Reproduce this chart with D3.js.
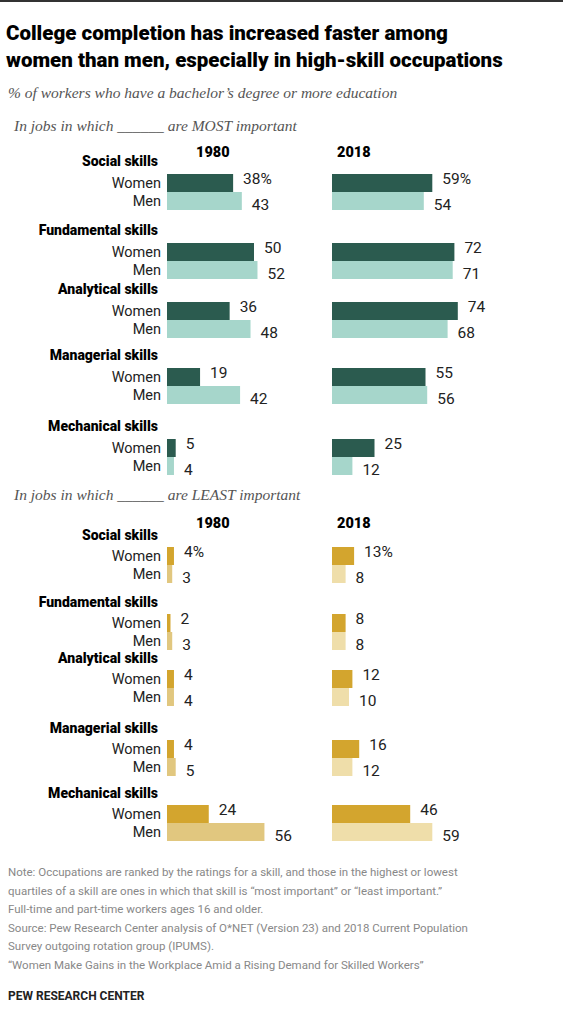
<!DOCTYPE html>
<html><head><meta charset="utf-8">
<script src="https://cdn.jsdelivr.net/npm/d3@7"></script>
<style>body{margin:0;background:#fff}</style>
</head><body><div id="chart"></div>
<script>
var skills = ["Social skills","Fundamental skills","Analytical skills","Managerial skills","Mechanical skills"];
var mostWomen1980 = [38,50,36,19,5], mostMen1980 = [43,52,48,42,4];
var mostWomen2018 = [59,72,74,55,25], mostMen2018 = [54,71,68,56,12];
var leastWomen1980 = [4,2,4,4,24], leastMen1980 = [3,3,4,5,56];
var leastWomen2018 = [13,8,12,16,46], leastMen2018 = [8,8,10,12,59];
var notes = [
  "Note: Occupations are ranked by the ratings for a skill, and those in the highest or lowest",
  "quartiles of a skill are ones in which that skill is \u201cmost important\u201d or \u201cleast important.\u201d",
  "Full-time and part-time workers ages 16 and older.",
  "Source: Pew Research Center analysis of O*NET (Version 23) and 2018 Current Population",
  "Survey outgoing rotation group (IPUMS).",
  "\u201cWomen Make Gains in the Workplace Amid a Rising Demand for Skilled Workers\u201d"
];

var W = 563, H = 1024, font = "Roboto, Arial, sans-serif";
var svg = d3.select("#chart").append("svg").attr("width", W).attr("height", H)
  .style("font-family", font);

svg.append("rect").attr("x",0).attr("y",0).attr("width",W).attr("height",2).attr("fill","#333");
svg.append("text").attr("x",6).attr("y",40).attr("font-size",20.5).attr("font-weight",900).attr("fill","#000")
  .text("College completion has increased faster among");
svg.append("text").attr("x",6).attr("y",67).attr("font-size",20.5).attr("font-weight",900).attr("fill","#000")
  .text("women than men, especially in high-skill occupations");
svg.append("text").attr("x",8).attr("y",98).attr("font-size",15.5).attr("font-style","italic")
  .attr("font-family","'Liberation Serif', serif").attr("fill","#555")
  .text("% of workers who have a bachelor\u2019s degree or more education");

var x1980 = d3.scaleLinear().domain([0,100]).range([167,341]);
var x2018 = d3.scaleLinear().domain([0,100]).range([332,502]);

function section(opt){
  svg.append("text").attr("x",14).attr("y",opt.titleY).attr("font-size",15.5).attr("font-style","italic")
    .attr("font-family","'Liberation Serif', serif").attr("fill","#555").text(opt.title);
  svg.append("text").attr("x",196).attr("y",opt.yearY).attr("font-size",14.5).attr("font-weight",900).text("1980");
  svg.append("text").attr("x",337).attr("y",opt.yearY).attr("font-size",14.5).attr("font-weight",900).text("2018");
  skills.forEach(function(s,i){
    var gy = opt.groupY[i], bh = opt.barH;
    svg.append("text").attr("x",158).attr("y",gy).attr("text-anchor","end")
      .attr("font-size",14).attr("font-weight",900).text(s);
    var by = gy + opt.gap;
    var rows = [
      {lab:"Women", v1:opt.w80[i], v2:opt.w18[i], c1:opt.cw, c2:opt.cw, y:by},
      {lab:"Men", v1:opt.m80[i], v2:opt.m18[i], c1:opt.cm80, c2:opt.cm18, y:by+bh}
    ];
    rows.forEach(function(r,k){
      svg.append("text").attr("x",161).attr("y",r.y+bh/2+5).attr("text-anchor","end")
        .attr("font-size",14.5).attr("fill","#222").text(r.lab);
      [[x1980,r.v1,r.c1],[x2018,r.v2,r.c2]].forEach(function(d){
        var sc = d[0];
        svg.append("rect").attr("x",sc(0)).attr("y",r.y).attr("width",sc(d[1])-sc(0))
          .attr("height",bh).attr("fill",d[2]);
        svg.append("text").attr("x",sc(d[1])+10).attr("y",r.y+bh/2+(k==0?1:9))
          .attr("font-size",15.5).attr("fill","#222")
          .text(d[1] + (i==0 && k==0 ? "%" : ""));
      });
    });
  });
}

section({title:"In jobs in which ______ are MOST important", titleY:131, yearY:157,
  groupY:[166,235,294,360,431], gap:8, barH:18,
  w80:mostWomen1980, m80:mostMen1980, w18:mostWomen2018, m18:mostMen2018,
  cw:"#2b5b4f", cm80:"#a6d6cb", cm18:"#a6d6cb"});
section({title:"In jobs in which ______ are LEAST important", titleY:500, yearY:528,
  groupY:[540,607,663,733,798], gap:7, barH:18,
  w80:leastWomen1980, m80:leastMen1980, w18:leastWomen2018, m18:leastMen2018,
  cw:"#d3a52e", cm80:"#e1c77f", cm18:"#efdeaa"});

notes.forEach(function(n,i){
  svg.append("text").attr("x",8).attr("y",876+i*18.5).attr("font-size",11.5).attr("fill","#888").text(n);
});
svg.append("text").attr("x",8).attr("y",1000).attr("font-size",12).attr("font-weight",700)
  .attr("fill","#222").text("PEW RESEARCH CENTER");
</script></body></html>
